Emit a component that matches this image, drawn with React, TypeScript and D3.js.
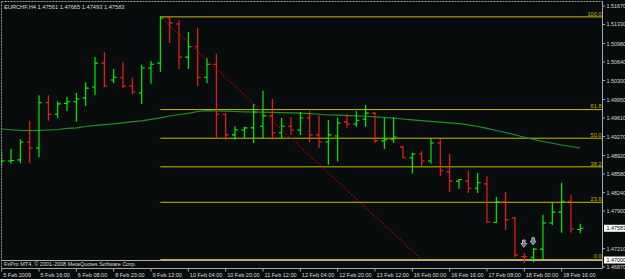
import React from "react";
import * as d3 from "d3";

// ---- data (EURCHF H4) ----
const opens = [1.4880,1.4882,1.4884,1.4917,1.4906,1.4989,1.4968,1.4988,1.4991,1.4998,1.5018,1.5062,1.5031,1.5035,1.5020,1.5007,1.5053,1.5062,1.5145,1.5134,1.5073,1.5092,1.5036,1.5060,1.4968,1.4930,1.4939,1.4943,1.4946,1.4965,1.4934,1.4946,1.4939,1.4961,1.4930,1.4917,1.4928,1.4954,1.4950,1.4959,1.4970,1.4919,1.4922,1.4908,1.4888,1.4895,1.4882,1.4915,1.4862,1.4845,1.4845,1.4832,1.4840,1.4769,1.4807,1.4777,1.47065,1.4705,1.4720,1.4768,1.4788,1.4808,1.47561];
const highs = [1.4900,1.4904,1.4922,1.4956,1.5003,1.5003,1.4992,1.5000,1.5007,1.5027,1.5073,1.5082,1.5051,1.5064,1.5035,1.5059,1.5066,1.5148,1.5147,1.5141,1.5119,1.5127,1.5071,1.5079,1.4970,1.4946,1.4945,1.4987,1.5011,1.4996,1.4961,1.4963,1.4972,1.4974,1.4965,1.4957,1.4962,1.4968,1.4974,1.4985,1.4972,1.4962,1.4962,1.4910,1.4897,1.4900,1.4924,1.4922,1.4895,1.4849,1.4864,1.4860,1.4854,1.4816,1.4825,1.4779,1.4713,1.4722,1.4783,1.4805,1.4842,1.4820,1.47665];
const lows = [1.4872,1.4877,1.4878,1.4878,1.4889,1.4956,1.4961,1.4974,1.4954,1.4983,1.5003,1.5018,1.5025,1.5016,1.5005,1.4987,1.5024,1.5046,1.5099,1.5051,1.5051,1.5020,1.5025,1.4923,1.4921,1.4921,1.4924,1.4915,1.4924,1.4921,1.4924,1.4930,1.4930,1.4917,1.4906,1.4875,1.4881,1.4943,1.4945,1.4945,1.4915,1.4904,1.4915,1.4888,1.4859,1.4873,1.4877,1.4854,1.4825,1.4831,1.4823,1.4823,1.4768,1.4768,1.4755,1.4705,1.4694,1.4696,1.4702,1.4764,1.4750,1.4750,1.47493];
const closes = [1.4882,1.4883,1.4917,1.4906,1.4989,1.4968,1.4987,1.4991,1.4996,1.5016,1.5062,1.5020,1.5036,1.5020,1.5009,1.5053,1.5060,1.5145,1.5136,1.5073,1.5092,1.5036,1.5060,1.4968,1.4930,1.4939,1.4943,1.4972,1.4965,1.4934,1.4946,1.4939,1.4961,1.4930,1.4917,1.4930,1.4952,1.4950,1.4957,1.4970,1.4919,1.4921,1.4926,1.4888,1.4895,1.4882,1.4915,1.4864,1.4845,1.4848,1.4832,1.4842,1.4770,1.4807,1.4774,1.4709,1.4706,1.4720,1.4768,1.4788,1.4808,1.4757,1.47583];
const maValues = [1.49408,1.49395,1.49384,1.49377,1.49381,1.49390,1.49399,1.49421,1.49430,1.49454,1.49476,1.49489,1.49501,1.49522,1.49543,1.49559,1.49587,1.49614,1.49647,1.49675,1.49697,1.49730,1.49748,1.49739,1.49736,1.49730,1.49724,1.49721,1.49717,1.49713,1.49710,1.49706,1.49702,1.49691,1.49680,1.49666,1.49662,1.49656,1.49651,1.49643,1.49632,1.49620,1.49607,1.49592,1.49577,1.49563,1.49550,1.49535,1.49522,1.49506,1.49485,1.49454,1.49421,1.49381,1.49344,1.49302,1.49256,1.49215,1.49178,1.49147,1.49114,1.49087,1.49059];
const dateLabels = ["5 Feb 2009","5 Feb 16:00","6 Feb 08:00","8 Feb 23:00","9 Feb 12:00","10 Feb 04:00","10 Feb 20:00","11 Feb 12:00","12 Feb 04:00","12 Feb 20:00","13 Feb 12:00","16 Feb 00:00","16 Feb 16:00","17 Feb 08:00","18 Feb 00:00","18 Feb 16:00"];
const priceTicks = ["1.51670","1.51330","1.50980","1.50640","1.50300","1.49950","1.49610","1.49270","1.48920","1.48580","1.48240","1.47900","1.47210","1.46870"];
const fibLevels = [0, 23.6, 38.2, 50.0, 61.8, 100.0];
const fibHigh = 1.5147;
const fibLow = 1.47008;
const fibStartBar = 17;
const fibEndBar = 45;
const hLinePrice = 1.4700;
const bidPrice = 1.47583;
const arrowBars = [56, 57];
const arrowPrices = [1.47367, 1.4741];
const title = "EURCHF,H4  1.47561 1.47665 1.47493 1.47583";
const copyright = "FxPro MT4, \u00A9 2001-2008 MetaQuotes Software Corp.";

const FONT = "'Liberation Sans', Arial, sans-serif";

export default function App() {
  const W = 625, H = 279;
  const plotRight = 602.5, plotBottom = 268.5;
  const x = d3.scaleLinear().domain([0, 62]).range([1.7, 580.3]);
  const y = d3.scaleLinear().domain([1.46853, 1.5178]).range([268, 0]);
  const maLine = d3.line<number>().x((_, i) => x(i)).y((d) => y(d))(maValues) || "";
  const up = "#00ff00", down = "#ff2020";
  const fibColor = "#c4be00";
  const txt = "#dcdcdc";

  return (
    <svg width={W} height={H} style={{ position: "absolute", left: 0, top: 0, background: "#080c0c" }}>
      <rect x={0} y={0} width={W} height={H} fill="#080c0c" />
      <defs>
        <clipPath id="plot">
          <rect x={1.5} y={1.5} width={plotRight - 1.5} height={plotBottom - 1.5} />
        </clipPath>
      </defs>
      <g clipPath="url(#plot)">
        <line x1={0} x2={plotRight} y1={y(hLinePrice) + 0.5} y2={y(hLinePrice) + 0.5} stroke="#b0b0b0" strokeWidth={1} />
        {fibLevels.map((lv) => {
          const p = fibLow + (fibHigh - fibLow) * lv / 100;
          return <line key={lv} x1={x(fibStartBar)} x2={plotRight} y1={y(p)} y2={y(p)} stroke={fibColor} strokeWidth={1} />;
        })}
        <line x1={x(fibStartBar)} y1={y(fibHigh)} x2={x(fibEndBar)} y2={y(fibLow)} stroke="#c80000" strokeWidth={1.1} strokeDasharray="1.3,2" />
        <path d={maLine} fill="none" stroke="#239023" strokeWidth={1.2} />
        {opens.map((o, i) => {
          const c = closes[i];
          const col = c > o ? up : down;
          const cx = x(i);
          return (
            <g key={i} stroke={col} strokeWidth={1.1}>
              <line x1={cx} x2={cx} y1={y(highs[i])} y2={y(lows[i])} />
              <line x1={cx - 3} x2={cx} y1={y(o)} y2={y(o)} />
              <line x1={cx} x2={cx + 3} y1={y(c)} y2={y(c)} />
            </g>
          );
        })}
        {arrowBars.map((b, k) => {
          const cx = x(b) - 0.5;
          const ty = y(arrowPrices[k]);
          const d = `M${cx - 1.3},${ty} L${cx + 1.3},${ty} L${cx + 1.3},${ty + 3.5} L${cx + 2.8},${ty + 3.5} L${cx},${ty + 7.2} L${cx - 2.8},${ty + 3.5} L${cx - 1.3},${ty + 3.5} Z`;
          return <path key={b} d={d} fill="#5f7085" stroke="#e8e8e8" strokeWidth={0.7} />;
        })}
      </g>
      {fibLevels.map((lv) => {
        const p = fibLow + (fibHigh - fibLow) * lv / 100;
        return (
          <text key={"f" + lv} x={601.5} y={y(p) - 1.3} textAnchor="end" fill={fibColor} fontSize={5.6} fontFamily={FONT}>
            {lv.toFixed(1)}
          </text>
        );
      })}
      <line x1={1.5} x2={plotRight} y1={1.5} y2={1.5} stroke="#9a9a9a" strokeWidth={1} strokeDasharray="2,1" />
      <line x1={1.5} x2={1.5} y1={1.5} y2={plotBottom} stroke="#9a9a9a" strokeWidth={1} strokeDasharray="2,1" />
      <line x1={plotRight} x2={plotRight} y1={1} y2={plotBottom} stroke="#a8a8a8" strokeWidth={1} />
      <line x1={1.5} x2={plotRight} y1={plotBottom} y2={plotBottom} stroke="#a8a8a8" strokeWidth={1} />
      <text x={4} y={8.5} fill={txt} fontSize={5.7} fontFamily={FONT}>{title}</text>
      <text x={4} y={266} fill={txt} fontSize={5.5} fontFamily={FONT}>{copyright}</text>
      {priceTicks.map((t) => {
        const yy = y(+t);
        return (
          <g key={t}>
            <line x1={plotRight} x2={plotRight + 2.5} y1={yy} y2={yy} stroke="#a8a8a8" strokeWidth={1} />
            <text x={606.5} y={yy + 2} fill={txt} fontSize={5.4} fontFamily={FONT}>{t}</text>
          </g>
        );
      })}
      {[bidPrice, hLinePrice].map((p) => {
        const yy = y(p);
        return (
          <g key={"h" + p}>
            <rect x={604} y={yy - 3.5} width={22} height={7} fill="#ffffff" />
            <text x={606.5} y={yy + 2} fill="#000000" fontSize={5.4} fontFamily={FONT}>{p.toFixed(5)}</text>
          </g>
        );
      })}
      {dateLabels.map((d, k) => {
        const xx = x(k * 4);
        return (
          <g key={d}>
            <line x1={xx} x2={xx} y1={plotBottom} y2={plotBottom + 3} stroke="#a8a8a8" strokeWidth={1} />
            <text x={xx + 1.5} y={277} fill={txt} fontSize={5.5} fontFamily={FONT}>{d}</text>
          </g>
        );
      })}
    </svg>
  );
}
